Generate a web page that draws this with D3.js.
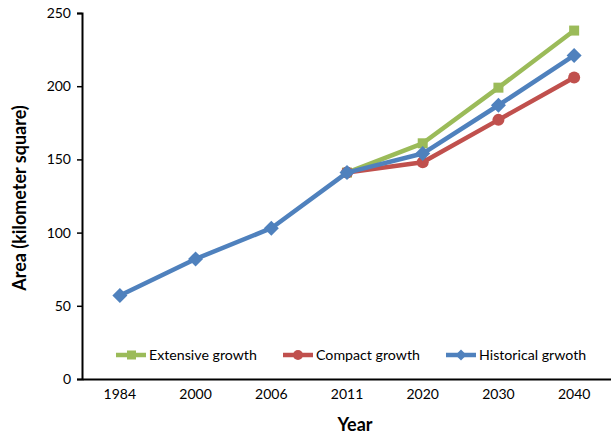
<!DOCTYPE html>
<html>
<head>
<meta charset="utf-8">
<script src="https://cdn.jsdelivr.net/npm/d3@7/dist/d3.min.js"></script>
<style>
  html, body { margin: 0; padding: 0; background: #fff; }
  text { font-family: Lato, "Open Sans", "Liberation Sans", sans-serif; }
</style>
</head>
<body>
<svg id="chart" width="611" height="435"></svg>
<script>
// Urban area growth scenarios (km²); scenario series begin at 2011
const years = ["1984", "2000", "2006", "2011", "2020", "2030", "2040"];
const extensive = [null, null, null, 141, 161, 199, 238];
const compact = [null, null, null, 141, 148, 177, 206];
const historical = [57, 82, 103, 141, 154, 187, 221];
const yTicks = [0, 50, 100, 150, 200, 250];

const seriesList = [
  { name: "Extensive growth", values: extensive, color: "#9BBB59", marker: "square" },
  { name: "Compact growth", values: compact, color: "#C0504D", marker: "circle" },
  { name: "Historical grwoth", values: historical, color: "#4F81BD", marker: "diamond" }
];

const svg = d3.select("#chart");
const plotLeft = 82, plotRight = 612, plotTop = 13, plotBottom = 379;

const x = d3.scaleBand().domain(years).range([plotLeft, plotRight]);
const y = d3.scaleLinear().domain([0, 250]).range([plotBottom, plotTop]);
const cx = d => x(d) + x.bandwidth() / 2;
const fontStack = "Lato, 'Open Sans', sans-serif";

// Y axis
const yAxis = svg.append("g")
  .attr("transform", `translate(${plotLeft},0)`)
  .call(d3.axisLeft(y).tickValues(yTicks).tickSize(5).tickPadding(6));
yAxis.select(".domain").attr("stroke", "#000").attr("stroke-width", 2);
yAxis.selectAll(".tick line").attr("stroke", "#000").attr("stroke-width", 1.5);
yAxis.selectAll(".tick text").attr("font-size", 14).attr("fill", "#000")
  .style("font-family", fontStack);

// X axis
const xAxis = svg.append("g")
  .attr("transform", `translate(0,${plotBottom})`)
  .call(d3.axisBottom(x).tickSize(0).tickPadding(10).tickSizeOuter(0));
xAxis.select(".domain").attr("stroke", "#000").attr("stroke-width", 2);
xAxis.selectAll(".tick text").attr("font-size", 14).attr("fill", "#000")
  .style("font-family", fontStack);

// Axis titles
svg.append("text")
  .attr("x", 355).attr("y", 431)
  .attr("text-anchor", "middle").attr("font-size", 18).attr("font-weight", "bold")
  .text("Year");
svg.append("text")
  .attr("transform", `translate(26,198) rotate(-90)`)
  .attr("text-anchor", "middle").attr("font-size", 18).attr("font-weight", "bold")
  .text("Area (kilometer square)");

// Marker drawing helper
function drawMarker(g, type, px, py, color) {
  if (type === "square") {
    g.append("rect").attr("x", px - 5).attr("y", py - 5).attr("width", 10).attr("height", 10).attr("fill", color);
  } else if (type === "circle") {
    g.append("circle").attr("cx", px).attr("cy", py).attr("r", 6).attr("fill", color);
  } else {
    g.append("path").attr("d", `M${px},${py - 7.5}L${px + 7.5},${py}L${px},${py + 7.5}L${px - 7.5},${py}Z`).attr("fill", color);
  }
}

const line = d3.line()
  .defined(d => d !== null)
  .x((d, i) => cx(years[i])).y(d => y(d));

seriesList.forEach(s => {
  const g = svg.append("g");
  g.append("path").datum(s.values)
    .attr("d", line).attr("fill", "none")
    .attr("stroke", s.color).attr("stroke-width", 4.5).attr("stroke-linejoin", "round");
  s.values.forEach((v, i) => {
    if (v !== null) drawMarker(g, s.marker, cx(years[i]), y(v), s.color);
  });
});

// Legend
const legendX = [116, 283, 446];
seriesList.forEach((s, i) => {
  const lx = legendX[i], ly = 355;
  const g = svg.append("g");
  g.append("line").attr("x1", lx).attr("x2", lx + 30).attr("y1", ly).attr("y2", ly)
    .attr("stroke", s.color).attr("stroke-width", 4.5);
  const m = s.marker;
  if (m === "square") g.append("rect").attr("x", lx + 11).attr("y", ly - 4.5).attr("width", 9).attr("height", 9).attr("fill", s.color);
  else if (m === "circle") g.append("circle").attr("cx", lx + 15).attr("cy", ly).attr("r", 5).attr("fill", s.color);
  else g.append("path").attr("d", `M${lx + 15},${ly - 5.5}L${lx + 20.5},${ly}L${lx + 15},${ly + 5.5}L${lx + 9.5},${ly}Z`).attr("fill", s.color);
  g.append("text").attr("x", lx + 33).attr("y", ly + 5).attr("font-size", 14.2).attr("fill", "#000").text(s.name);
});
</script>
</body>
</html>
